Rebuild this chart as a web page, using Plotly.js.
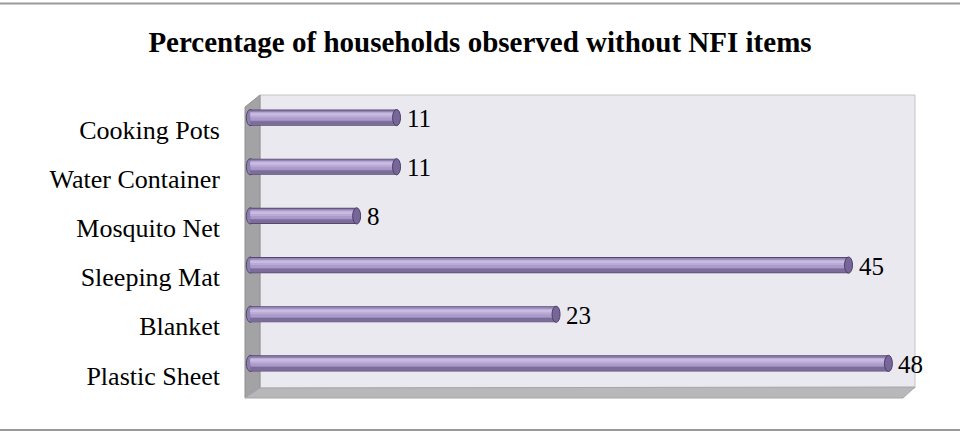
<!DOCTYPE html>
<html>
<head>
<meta charset="utf-8">
<script src="https://cdn.plot.ly/plotly-3.0.1.min.js"></script>
<style>
  html, body { margin: 0; padding: 0; background: #ffffff; }
  #chart { width: 960px; height: 433px; }
</style>
</head>
<body>
<div id="chart"></div>
<script>
// Household NFI gaps (percent), bottom-to-top order on the category axis
const categories = ['Plastic Sheet', 'Blanket', 'Sleeping Mat', 'Mosquito Net', 'Water Container', 'Cooking Pots'];
const percentWithout = [48, 23, 45, 8, 11, 11];
const chartTitle = 'Percentage of households observed without NFI items';

const W = 960, H = 433;
const M = { l: 245, r: 45, t: 93, b: 45 };
const plotW = W - M.l - M.r, plotH = H - M.t - M.b;
// pixel -> paper helpers for the wall/floor decoration
const px = x => (x - M.l) / plotW;
const py = y => 1 - (y - M.t) / plotH;
const poly = pts => 'M' + pts.map(p => px(p[0]) + ',' + py(p[1])).join(' L') + ' Z';

const serif = '"Liberation Serif", "Times New Roman", serif';

// cylinder body as stacked colour bands (offset/width in category units)
const bands = [
  { off: -0.165, w: 0.33, c: '#55476f' },
  { off: -0.145, w: 0.29, c: '#9383b3' },
  { off: -0.145, w: 0.07, c: '#7c6c9a' },
  { off: -0.06,  w: 0.17, c: '#ab9bca' },
  { off: 0.0,    w: 0.11, c: '#baabd6' },
  { off: 0.04,   w: 0.05, c: '#c8bbe1' }
];

const traces = bands.map(b => ({
  type: 'bar',
  orientation: 'h',
  y: categories,
  x: percentWithout,
  base: 0,
  offset: b.off,
  width: b.w,
  marker: { color: b.c, line: { width: 0 } },
  hoverinfo: 'skip',
  showlegend: false
}));

const shapes = [
  // back wall
  { type: 'rect', xref: 'paper', yref: 'paper', layer: 'below',
    x0: px(260), x1: px(915), y0: py(388), y1: py(95),
    fillcolor: '#ebe9f0', line: { color: '#c4c4c8', width: 1 } },
  // side wall
  { type: 'path', xref: 'paper', yref: 'paper', layer: 'below',
    path: poly([[245, 107], [260, 95], [260, 388], [245, 398]]),
    fillcolor: '#a3a3a6', line: { color: '#909094', width: 1 } },
  // floor
  { type: 'path', xref: 'paper', yref: 'paper', layer: 'below',
    path: poly([[245, 398], [260, 388], [915, 387], [903, 398]]),
    fillcolor: '#b8b8bb', line: { color: '#a6a6aa', width: 1 } },
  // frame rules
  { type: 'line', xref: 'paper', yref: 'paper', x0: px(0), x1: px(960), y0: py(3.5), y1: py(3.5),
    line: { color: '#9a9a9a', width: 2 } },
  { type: 'line', xref: 'paper', yref: 'paper', x0: px(0), x1: px(960), y0: py(430), y1: py(430),
    line: { color: '#9a9a9a', width: 2 } }
];

// rounded ends of every cylinder
const capDx = 0.3, capDy = 0.165;
categories.forEach((cat, i) => {
  const v = percentWithout[i];
  shapes.push({ type: 'circle', xref: 'x', yref: 'y', layer: 'below',
    x0: -capDx, x1: capDx, y0: i - capDy, y1: i + capDy,
    fillcolor: '#8e7eae', line: { color: '#55476f', width: 1 } });
  shapes.push({ type: 'circle', xref: 'x', yref: 'y', layer: 'above',
    x0: v - capDx, x1: v + capDx, y0: i - capDy, y1: i + capDy,
    fillcolor: '#76669a', line: { color: '#4d4066', width: 1 } });
});

const annotations = categories.map((cat, i) => ({
  x: percentWithout[i], y: cat, xref: 'x', yref: 'y',
  text: String(percentWithout[i]),
  showarrow: false, xanchor: 'left', yanchor: 'middle', xshift: 8, yshift: -1,
  font: { family: serif, size: 25, color: '#000000' }
}));

const layout = {
  width: W, height: H,
  margin: M,
  paper_bgcolor: '#ffffff',
  plot_bgcolor: 'rgba(0,0,0,0)',
  barmode: 'overlay',
  title: {
    text: '<b>' + chartTitle + '</b>',
    x: 0.5, xref: 'container', xanchor: 'center',
    y: 1 - 42 / H, yref: 'container', yanchor: 'middle',
    font: { family: serif, size: 29, color: '#000000' }
  },
  xaxis: {
    range: [-0.4, 50], showgrid: false, zeroline: false, showline: false,
    showticklabels: false, ticks: '', fixedrange: true
  },
  yaxis: {
    type: 'category', categoryorder: 'array', categoryarray: categories,
    range: [-0.5, categories.length - 0.5],
    showgrid: false, zeroline: false, showline: false, ticks: '',
    ticklabelstandoff: 24,
    ticklabelshift: 12,
    tickfont: { family: serif, size: 26, color: '#000000' },
    fixedrange: true
  },
  shapes: shapes,
  annotations: annotations
};

Plotly.newPlot('chart', traces, layout, { displayModeBar: false, staticPlot: true });
</script>
</body>
</html>
